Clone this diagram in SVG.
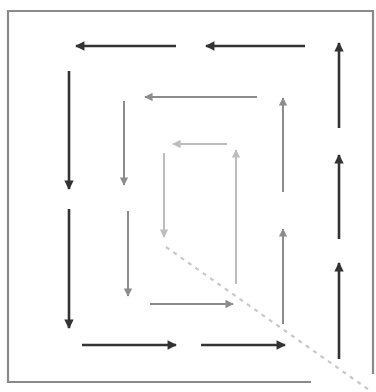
<svg xmlns="http://www.w3.org/2000/svg" width="376" height="392" viewBox="0 0 376 392">
<style>
.frame{fill:none;stroke:#8a8a8a;stroke-width:2.2}
.d{stroke:#333;stroke-width:2.6;fill:none}
.m{stroke:#8c8c8c;stroke-width:2;fill:none}
.l{stroke:#bdbdbd;stroke-width:2;fill:none}
.dot{stroke:#c8c8c8;stroke-width:2.2;stroke-dasharray:4 5;fill:none}
</style>
<defs>
<marker id="hd" viewBox="0 0 10 10" refX="9" refY="5" markerWidth="4.4" markerHeight="3.6" orient="auto" markerUnits="strokeWidth"><path d="M0,0 L10,5 L0,10 Z" fill="#333"/></marker>
<marker id="hm" viewBox="0 0 10 10" refX="9" refY="5" markerWidth="5" markerHeight="4.2" orient="auto" markerUnits="strokeWidth"><path d="M0,0 L10,5 L0,10 Z" fill="#8c8c8c"/></marker>
<marker id="hl" viewBox="0 0 10 10" refX="9" refY="5" markerWidth="5" markerHeight="4.2" orient="auto" markerUnits="strokeWidth"><path d="M0,0 L10,5 L0,10 Z" fill="#bdbdbd"/></marker>
</defs>
<g id="frame">
<path class="frame" d="M311,382 H8 V11 H373 V374"/>
</g>
<g id="connectors">
<line class="dot" x1="166" y1="247" x2="372" y2="392"/>
<!-- outer -->
<line class="d" marker-end="url(#hd)" x1="176" y1="46" x2="76" y2="46"/>
<line class="d" marker-end="url(#hd)" x1="305" y1="46" x2="206" y2="46"/>
<line class="d" marker-end="url(#hd)" x1="69" y1="71" x2="69" y2="189"/>
<line class="d" marker-end="url(#hd)" x1="69" y1="209" x2="69" y2="328"/>
<line class="d" marker-end="url(#hd)" x1="82" y1="345" x2="176" y2="345"/>
<line class="d" marker-end="url(#hd)" x1="201" y1="345" x2="285" y2="345"/>
<line class="d" marker-end="url(#hd)" x1="339" y1="128" x2="339" y2="43"/>
<line class="d" marker-end="url(#hd)" x1="339" y1="239" x2="339" y2="155"/>
<line class="d" marker-end="url(#hd)" x1="339" y1="359" x2="339" y2="263"/>
<!-- middle -->
<line class="m" marker-end="url(#hm)" x1="257" y1="97" x2="145" y2="97"/>
<line class="m" marker-end="url(#hm)" x1="124" y1="101" x2="124" y2="185"/>
<line class="m" marker-end="url(#hm)" x1="128" y1="211" x2="128" y2="296"/>
<line class="m" marker-end="url(#hm)" x1="150" y1="304" x2="233" y2="304"/>
<line class="m" marker-end="url(#hm)" x1="283" y1="192" x2="283" y2="98"/>
<line class="m" marker-end="url(#hm)" x1="283" y1="324" x2="283" y2="229"/>
<!-- inner -->
<line class="l" marker-end="url(#hl)" x1="227" y1="144" x2="173" y2="144"/>
<line class="l" marker-end="url(#hl)" x1="164" y1="153" x2="164" y2="237"/>
<line class="l" marker-end="url(#hl)" x1="236" y1="284" x2="236" y2="150"/>
</g>
</svg>
